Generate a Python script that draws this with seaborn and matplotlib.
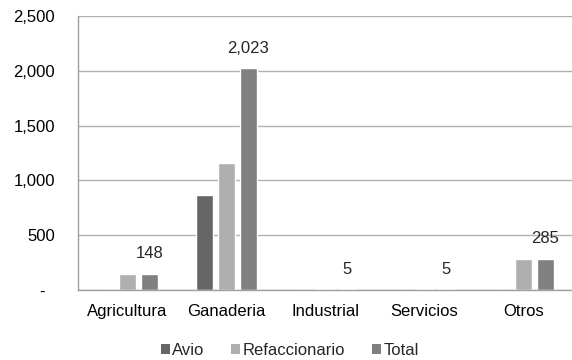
import numpy as np
import pandas as pd
import matplotlib
matplotlib.use('Agg')
import matplotlib.pyplot as plt
import seaborn as sns
from matplotlib.ticker import FuncFormatter

categories = ['Agricultura', 'Ganaderia', 'Industrial', 'Servicios', 'Otros']
series = ['Avio', 'Refaccionario', 'Total']
avio = [0, 867, 0, 0, 0]
refaccionario = [148, 1156, 5, 5, 285]
total = [148, 2023, 5, 5, 285]
colors = ['#666666', '#afafaf', '#808080']

df = pd.DataFrame({
    'categoria': categories * 3,
    'serie': [s for s in series for _ in categories],
    'valor': avio + refaccionario + total,
})

sns.set_style('white')
plt.rcParams['font.family'] = ['Liberation Sans', 'DejaVu Sans']
fs = 12

fig = plt.figure(figsize=(5.72, 3.6), dpi=100)
ax = fig.add_axes([78 / 572, 1 - 290 / 360, 495 / 572, 274 / 360])

sns.barplot(data=df, x='categoria', y='valor', hue='serie', order=categories,
            hue_order=series, palette=colors, width=0.667, gap=0.23,
            saturation=1, ax=ax, legend=True)

ax.set_ylim(0, 2500)
ax.set_xlim(-0.5, 4.5)
ax.set_yticks(np.arange(0, 2501, 500))
ax.yaxis.set_major_formatter(FuncFormatter(lambda v, p: '-  ' if v == 0 else f'{int(v):,}'))
ax.grid(axis='y', color='#b0b0b0', linewidth=1)
ax.set_axisbelow(True)
for side in ['top', 'right']:
    ax.spines[side].set_visible(False)
for side in ['left', 'bottom']:
    ax.spines[side].set_color('#a0a0a0')
    ax.spines[side].set_linewidth(1)
ax.tick_params(axis='both', length=0, labelsize=fs, colors='black')
ax.tick_params(axis='y', pad=16.5)
ax.tick_params(axis='x', pad=10)
ax.set_xlabel('')
ax.set_ylabel('')

# labels above the Total bars
for i, v in enumerate(total):
    x = i + 0.222
    ax.annotate(f'{v:,}', (x, v), xytext=(0, 14.5), textcoords='offset points',
                ha='center', va='center', fontsize=fs)

handles, labels = ax.get_legend_handles_labels()
leg = ax.legend(handles, labels, loc='center', bbox_to_anchor=(0.428, -0.219),
                ncol=3, frameon=False, fontsize=fs, handlelength=0.55,
                handleheight=0.55, handletextpad=0.15, columnspacing=1.6,
                borderpad=0, borderaxespad=0)
for h in leg.legend_handles:
    h.set_edgecolor('none')

fig.savefig('out.png', dpi=100)
